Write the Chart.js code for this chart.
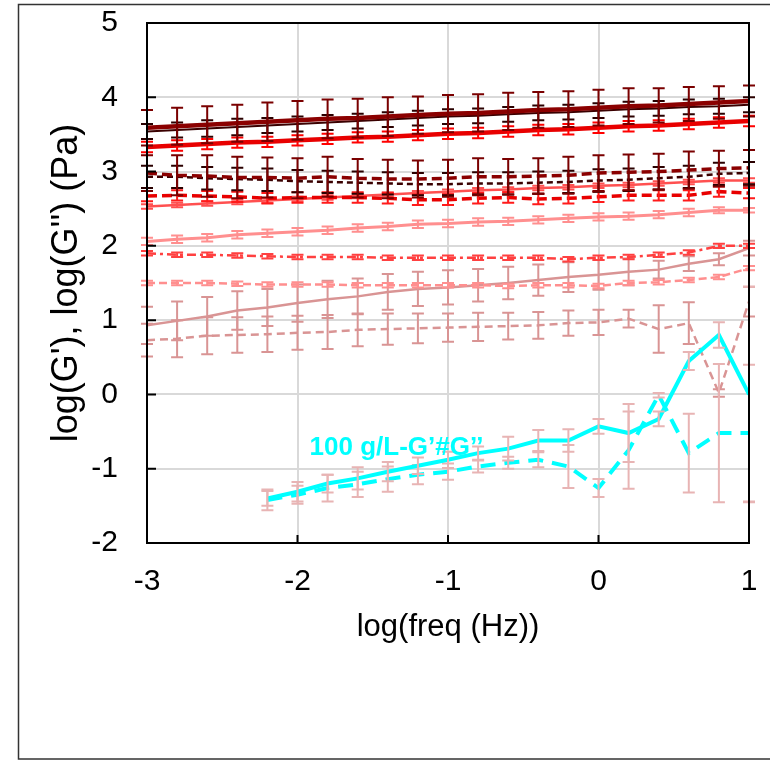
<!DOCTYPE html>
<html>
<head>
<meta charset="utf-8">
<script src="https://cdn.jsdelivr.net/npm/chart.js@4.4.0/dist/chart.umd.min.js"></script>
<style>
  html, body { margin: 0; padding: 0; background: #fff; }
  canvas { display: block; }
</style>
</head>
<body>
<canvas id="chart" width="770" height="760"></canvas>
<script>
// log(freq) of every measured point
const logFreq = [-3, -2.8, -2.6, -2.4, -2.2, -2, -1.8, -1.6, -1.4, -1.2, -1, -0.8, -0.6, -0.4, -0.2, 0, 0.2, 0.4, 0.6, 0.8, 1];

const darkRedG1 = [3.59, 3.61, 3.63, 3.65, 3.67, 3.69, 3.71, 3.72, 3.74, 3.76, 3.78, 3.79, 3.81, 3.83, 3.84, 3.86, 3.88, 3.89, 3.91, 3.93, 3.95];
const darkRedG1Err = [0.24, 0.25, 0.25, 0.25, 0.26, 0.26, 0.26, 0.26, 0.26, 0.25, 0.25, 0.25, 0.25, 0.24, 0.24, 0.24, 0.24, 0.23, 0.23, 0.22, 0.21];
const blackG1 = [3.54, 3.56, 3.58, 3.60, 3.62, 3.64, 3.66, 3.68, 3.70, 3.72, 3.74, 3.75, 3.77, 3.79, 3.80, 3.82, 3.84, 3.85, 3.87, 3.88, 3.90];
const blackG1Err = [0.10, 0.10, 0.11, 0.11, 0.10, 0.10, 0.10, 0.10, 0.10, 0.10, 0.10, 0.10, 0.10, 0.10, 0.10, 0.10, 0.10, 0.10, 0.10, 0.10, 0.10];
const redG1 = [3.33, 3.35, 3.37, 3.39, 3.40, 3.42, 3.44, 3.46, 3.47, 3.49, 3.51, 3.52, 3.54, 3.56, 3.57, 3.59, 3.61, 3.62, 3.64, 3.66, 3.68];
const redG1Err = [0.07, 0.07, 0.07, 0.07, 0.07, 0.07, 0.07, 0.07, 0.07, 0.07, 0.07, 0.07, 0.07, 0.07, 0.07, 0.07, 0.07, 0.07, 0.07, 0.07, 0.07];

const darkRedG2 = [2.98, 2.95, 2.94, 2.92, 2.92, 2.91, 2.93, 2.91, 2.90, 2.90, 2.91, 2.93, 2.93, 2.94, 2.95, 2.98, 2.99, 3.00, 3.02, 3.04, 3.05];
const darkRedG2Err = [0.24, 0.27, 0.28, 0.28, 0.27, 0.27, 0.27, 0.26, 0.26, 0.25, 0.25, 0.25, 0.24, 0.24, 0.25, 0.24, 0.24, 0.24, 0.25, 0.24, 0.24];
const blackG2 = [2.93, 2.93, 2.91, 2.90, 2.89, 2.87, 2.86, 2.85, 2.84, 2.83, 2.83, 2.84, 2.84, 2.85, 2.86, 2.88, 2.89, 2.91, 2.93, 2.97, 2.98];
const blackG2Err = [0.15, 0.15, 0.15, 0.15, 0.15, 0.15, 0.15, 0.15, 0.15, 0.15, 0.15, 0.15, 0.15, 0.15, 0.15, 0.15, 0.15, 0.15, 0.15, 0.15, 0.15];
const redG2 = [2.67, 2.68, 2.67, 2.66, 2.64, 2.65, 2.65, 2.65, 2.64, 2.62, 2.62, 2.64, 2.65, 2.63, 2.64, 2.66, 2.68, 2.68, 2.68, 2.73, 2.71];
const redG2Err = [0.07, 0.07, 0.07, 0.07, 0.07, 0.07, 0.07, 0.07, 0.07, 0.07, 0.07, 0.07, 0.07, 0.07, 0.07, 0.07, 0.07, 0.07, 0.07, 0.07, 0.07];

const lightRedG1 = [2.53, 2.55, 2.57, 2.59, 2.61, 2.63, 2.65, 2.67, 2.69, 2.71, 2.73, 2.75, 2.76, 2.78, 2.79, 2.81, 2.82, 2.84, 2.86, 2.88, 2.88];
const lightRedG1Err = [0.03, 0.03, 0.03, 0.03, 0.03, 0.03, 0.03, 0.03, 0.03, 0.03, 0.03, 0.03, 0.03, 0.03, 0.03, 0.03, 0.03, 0.03, 0.03, 0.03, 0.03];
const pinkG1 = [2.06, 2.09, 2.11, 2.15, 2.17, 2.19, 2.21, 2.24, 2.26, 2.29, 2.30, 2.32, 2.33, 2.35, 2.37, 2.39, 2.40, 2.42, 2.45, 2.48, 2.48];
const pinkG1Err = [0.05, 0.05, 0.05, 0.05, 0.05, 0.05, 0.05, 0.05, 0.05, 0.05, 0.05, 0.05, 0.05, 0.05, 0.05, 0.05, 0.05, 0.05, 0.05, 0.04, 0.03];
const lightRedG2 = [1.90, 1.88, 1.88, 1.87, 1.86, 1.85, 1.85, 1.85, 1.84, 1.84, 1.84, 1.84, 1.84, 1.84, 1.82, 1.84, 1.85, 1.88, 1.91, 2.00, 2.00];
const lightRedG2Err = [0.03, 0.03, 0.03, 0.03, 0.03, 0.03, 0.03, 0.03, 0.03, 0.03, 0.03, 0.03, 0.03, 0.03, 0.03, 0.03, 0.03, 0.03, 0.03, 0.03, 0.03];
const pinkG2 = [1.50, 1.50, 1.50, 1.49, 1.48, 1.48, 1.48, 1.47, 1.47, 1.47, 1.47, 1.47, 1.46, 1.47, 1.47, 1.46, 1.50, 1.51, 1.54, 1.58, 1.70];
const pinkG2Err = [0.03, 0.03, 0.03, 0.03, 0.03, 0.03, 0.03, 0.03, 0.03, 0.03, 0.03, 0.03, 0.03, 0.03, 0.03, 0.03, 0.03, 0.03, 0.03, 0.03, 0.03];

const roseG1 = [0.93, 0.99, 1.05, 1.13, 1.17, 1.23, 1.28, 1.32, 1.38, 1.42, 1.44, 1.47, 1.50, 1.54, 1.58, 1.61, 1.65, 1.68, 1.76, 1.82, 1.97];
const roseG1Err = [0.25, 0.26, 0.26, 0.26, 0.25, 0.25, 0.25, 0.24, 0.24, 0.23, 0.23, 0.22, 0.22, 0.21, 0.20, 0.20, 0.18, 0.12, 0.10, 0.08, 0.10];
const roseG2 = [0.73, 0.75, 0.79, 0.80, 0.81, 0.83, 0.84, 0.87, 0.88, 0.89, 0.90, 0.91, 0.92, 0.93, 0.96, 0.97, 1.02, 0.88, 0.96, 0.02, 1.25];
const roseG2Err = [0.22, 0.25, 0.25, 0.24, 0.24, 0.23, 0.23, 0.22, 0.21, 0.20, 0.19, 0.19, 0.18, 0.18, 0.17, 0.17, 0.12, 0.32, 0.28, 0.05, 0.20];

// 100 g/L sample
const cyanG1 = [null, null, null, null, -1.40, -1.31, -1.20, -1.13, -1.04, -0.96, -0.88, -0.79, -0.73, -0.62, -0.62, -0.43, -0.52, -0.33, 0.45, 0.80, 0.00];
const cyanG1Err = [null, null, null, null, 0.10, 0.13, 0.12, 0.15, 0.13, 0.11, 0.11, 0.09, 0.16, 0.14, 0.15, 0.10, 0.39, 0.10, 0.12, 0.17, 1.45];
const cyanG2 = [null, null, null, null, -1.42, -1.35, -1.26, -1.21, -1.14, -1.08, -1.04, -0.97, -0.92, -0.88, -0.97, -1.26, -0.75, -0.01, -0.79, -0.52, -0.52];
const cyanG2Err = [null, null, null, null, 0.14, 0.12, 0.18, 0.17, 0.17, 0.13, 0.11, 0.08, 0.08, 0.10, 0.29, 0.12, 0.52, 0.03, 0.53, 0.93, 0.92];

const xTicks = [-3, -2, -1, 0, 1];
const yTicks = [-2, -1, 0, 1, 2, 3, 4, 5];
const sampleLabel = '100 g/L-G’#G’’';
const sampleLabelAt = { x: -1.92, y: -0.82 };

const FONT = "'Liberation Sans', Arial, sans-serif";

function points(values) {
    return logFreq.map((x, i) => ({ x: x, y: values[i] }));
}

function line(values, errors, color, width, dash, errorColor) {
    return {
        data: points(values),
        errors: errors,
        errorColor: errorColor || color,
        borderColor: color,
        borderWidth: width,
        borderDash: dash || [],
        pointRadius: 0,
        tension: 0,
        fill: false
    };
}

// first dataset is drawn on top
const datasets = [
    line(cyanG1, cyanG1Err, '#00ffff', 4, [], '#e8b4b4'),
    line(cyanG2, cyanG2Err, '#00ffff', 4, [15, 9], '#e8b4b4'),
    line(darkRedG1, darkRedG1Err, '#8b0000', 4.5, [], '#7a0000'),
    line(blackG1, blackG1Err, '#3a0000', 2, [], '#2a0000'),
    line(redG1, redG1Err, '#e80000', 4.5, [], '#ff0000'),
    line(darkRedG2, darkRedG2Err, '#8b0000', 3.5, [10, 5], '#7a0000'),
    line(blackG2, blackG2Err, '#3a0000', 2.5, [6, 4], '#2a0000'),
    line(redG2, redG2Err, '#e80000', 3.5, [10, 5], '#ff1a1a'),
    line(lightRedG1, lightRedG1Err, '#ff5050', 2.5, []),
    line(pinkG1, pinkG1Err, '#ff8f8f', 3, []),
    line(lightRedG2, lightRedG2Err, '#ff4040', 2.5, [9, 4, 3, 4]),
    line(pinkG2, pinkG2Err, '#ff8f8f', 2.5, [8, 4]),
    line(roseG1, roseG1Err, '#d99494', 2.5, []),
    line(roseG2, roseG2Err, '#d99494', 2.5, [8, 5])
];

const errorBars = {
    id: 'errorBars',
    afterDatasetDraw(chart, args) {
        const ds = chart.data.datasets[args.index];
        if (!ds.errors) return;
        const { ctx, scales: { x, y } } = chart;
        ctx.save();
        ctx.strokeStyle = ds.errorColor;
        ctx.lineWidth = 2;
        ctx.setLineDash([]);
        ds.data.forEach((p, i) => {
            const e = ds.errors[i];
            if (p.y === null || e === null) return;
            const px = x.getPixelForValue(p.x);
            const top = y.getPixelForValue(p.y + e);
            const bot = y.getPixelForValue(p.y - e);
            ctx.beginPath();
            ctx.moveTo(px, top); ctx.lineTo(px, bot);
            ctx.moveTo(px - 6, top); ctx.lineTo(px + 6, top);
            ctx.moveTo(px - 6, bot); ctx.lineTo(px + 6, bot);
            ctx.stroke();
        });
        ctx.restore();
    }
};

const frame = {
    id: 'frame',
    beforeDraw(chart) {
        const ctx = chart.ctx;
        ctx.save();
        ctx.fillStyle = '#fff';
        ctx.fillRect(0, 0, chart.width, chart.height);
        ctx.strokeStyle = '#333';
        ctx.lineWidth = 1.5;
        ctx.strokeRect(18.5, 4.5, 800, 754.5);
        ctx.restore();
    },
    afterDraw(chart) {
        const { ctx, chartArea: a, scales: { x, y } } = chart;
        ctx.save();
        ctx.strokeStyle = '#000';
        ctx.lineWidth = 2;
        ctx.strokeRect(a.left, a.top, a.right - a.left, a.bottom - a.top);
        ctx.beginPath();
        yTicks.forEach(v => {
            const py = y.getPixelForValue(v);
            ctx.moveTo(a.left, py); ctx.lineTo(a.left + 9, py);
        });
        xTicks.forEach(v => {
            const px = x.getPixelForValue(v);
            ctx.moveTo(px, a.bottom); ctx.lineTo(px, a.bottom - 8);
        });
        ctx.stroke();
        ctx.fillStyle = '#00ffff';
        ctx.font = 'bold 26px ' + FONT;
        ctx.textBaseline = 'alphabetic';
        ctx.fillText(sampleLabel, x.getPixelForValue(sampleLabelAt.x), y.getPixelForValue(sampleLabelAt.y));
        ctx.restore();
    }
};

new Chart(document.getElementById('chart'), {
    type: 'line',
    data: { datasets: datasets },
    options: {
        responsive: false,
        animation: false,
        layout: { padding: { top: 23, right: 21, left: 0, bottom: 0 } },
        plugins: { legend: { display: false }, tooltip: { enabled: false } },
        scales: {
            x: {
                type: 'linear',
                min: -3,
                max: 1,
                afterFit: (scale) => {
                    scale.height = 217;
                    scale.paddingLeft = 0;
                    scale.paddingRight = 0;
                },
                afterBuildTicks: (scale) => { scale.ticks = xTicks.map(v => ({ value: v })); },
                grid: { color: '#d9d9d9', lineWidth: 2, drawTicks: false },
                border: { display: false },
                ticks: { padding: 21, color: '#000', font: { family: FONT, size: 30 } },
                title: {
                    display: true,
                    text: 'log(freq (Hz))',
                    color: '#000',
                    font: { family: FONT, size: 31 },
                    padding: { top: 0, bottom: 114 }
                }
            },
            y: {
                min: -2,
                max: 5,
                afterFit: (scale) => {
                    scale.width = 147;
                    scale.paddingTop = 0;
                    scale.paddingBottom = 0;
                },
                afterBuildTicks: (scale) => { scale.ticks = yTicks.map(v => ({ value: v })); },
                grid: { color: '#d9d9d9', lineWidth: 2, drawTicks: false },
                border: { display: false },
                ticks: { padding: 29, color: '#000', font: { family: FONT, size: 30 } },
                title: {
                    display: true,
                    text: "log(G'), log(G'') (Pa)",
                    color: '#000',
                    font: { family: FONT, size: 36 },
                    padding: { top: 45, bottom: 0 }
                }
            }
        }
    },
    plugins: [errorBars, frame]
});
</script>
</body>
</html>
